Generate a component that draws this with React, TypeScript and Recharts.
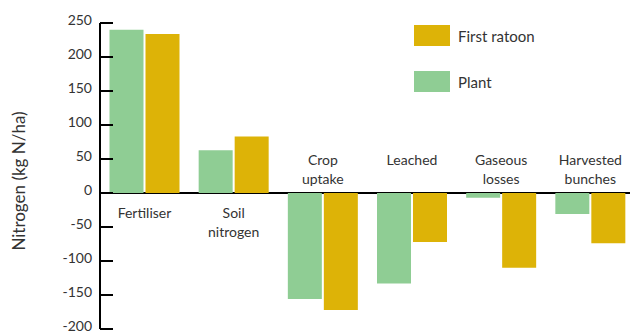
import {
  BarChart,
  Bar,
  XAxis,
  YAxis,
  CartesianGrid,
  LabelList,
} from "recharts";

const categories = [
  ["Fertiliser"],
  ["Soil", "nitrogen"],
  ["Crop", "uptake"],
  ["Leached"],
  ["Gaseous", "losses"],
  ["Harvested", "bunches"],
];
const plant = [240, 63, -156, -133, -7, -31];
const firstRatoon = [234, 83, -172, -72, -110, -74];
const yTicks = [-200, -150, -100, -50, 0, 50, 100, 150, 200, 250];

const GREEN = "#8fcd94";
const GOLD = "#ddb307";
const TEXT = "#333333";
const FONT = "Lato, 'Open Sans', sans-serif";
const BAR_GAP = 2;

const data = categories.map((lines, i) => ({
  name: lines.join(" "),
  lines,
  plant: plant[i],
  ratoon: firstRatoon[i],
}));

const legendItems = [
  { label: "First ratoon", color: GOLD },
  { label: "Plant", color: GREEN },
];

// group label: below the zero line for gains, above it for losses
function GroupLabel(props: any) {
  const { x, y, width, height, index } = props;
  const row = data[index];
  const zero = y + height;
  const cx = x + width + BAR_GAP / 2;
  const firstY = row.plant >= 0 ? zero + 19 : zero - 34;
  return (
    <text
      x={cx}
      textAnchor="middle"
      dominantBaseline="central"
      fontFamily={FONT}
      fontSize={14}
      fill={TEXT}
    >
      {row.lines.map((l: string, k: number) => (
        <tspan key={k} x={cx} y={firstY + k * 19}>
          {l}
        </tspan>
      ))}
    </text>
  );
}

function YLabel(props: any) {
  const vb = props.viewBox;
  const cx = vb.x + 18;
  const cy = vb.y + vb.height / 2 + 5;
  return (
    <text
      x={cx}
      y={cy}
      transform={`rotate(-90 ${cx} ${cy})`}
      textAnchor="middle"
      dominantBaseline="central"
      fontFamily={FONT}
      fontSize={17}
      fill={TEXT}
    >
      Nitrogen (kg N/ha)
    </text>
  );
}

export default function App() {
  return (
    <div
      style={{
        position: "absolute",
        left: 0,
        top: 0,
        width: 630,
        height: 334,
        overflow: "hidden",
        background: "#fff",
      }}
    >
      <BarChart
        width={640}
        height={334}
        data={data}
        margin={{ top: 23, right: 5, bottom: 5, left: 0 }}
        barCategoryGap={9.5}
        barGap={BAR_GAP}
      >
        <CartesianGrid
          vertical={false}
          horizontalValues={[0]}
          stroke="#000"
          strokeWidth={2}
        />
        <XAxis dataKey="name" hide />
        <YAxis
          width={100}
          domain={[-200, 250]}
          ticks={yTicks}
          interval={0}
          axisLine={{ stroke: "#000", strokeWidth: 2 }}
          tickLine={{ stroke: "#000", strokeWidth: 2 }}
          tickSize={-13}
          tickMargin={21}
          tick={{ fill: TEXT, fontSize: 14, fontFamily: FONT, dy: -3 }}
          label={<YLabel />}
        />
        <Bar dataKey="plant" fill={GREEN} isAnimationActive={false}>
          <LabelList dataKey="plant" content={<GroupLabel />} />
        </Bar>
        <Bar dataKey="ratoon" fill={GOLD} isAnimationActive={false} />
      </BarChart>
      <div
        style={{
          position: "absolute",
          left: 414,
          top: 25,
          fontFamily: FONT,
          fontSize: 15,
          color: TEXT,
        }}
      >
        {legendItems.map((it) => (
          <div
            key={it.label}
            style={{ display: "flex", alignItems: "center", height: 21, marginBottom: 25 }}
          >
            <span
              style={{
                display: "inline-block",
                width: 36,
                height: 21,
                background: it.color,
                marginRight: 8,
              }}
            />
            {it.label}
          </div>
        ))}
      </div>
    </div>
  );
}
